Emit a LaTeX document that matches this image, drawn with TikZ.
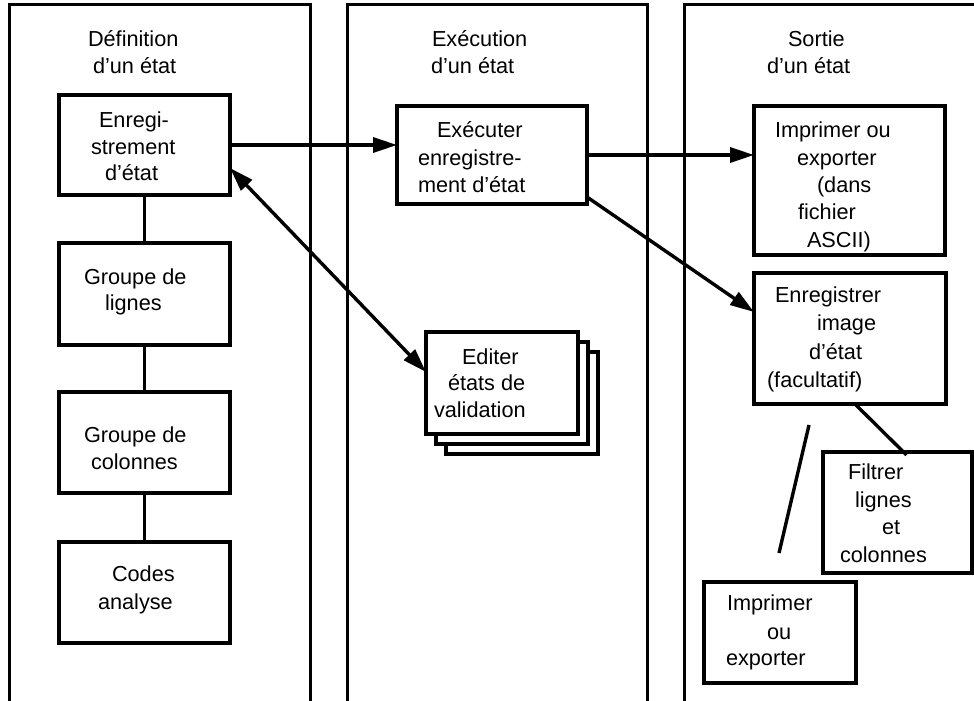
\documentclass[tikz,border=0pt]{standalone}
\usepackage{fontspec}
\setmainfont{Liberation Sans}
\usetikzlibrary{arrows.meta,calc}
\tikzset{
 panel/.style={draw, line width=3pt, anchor=north west, inner sep=0pt, outer sep=0pt},
 box/.style={draw, line width=3.5pt, fill=white, inner sep=0pt, outer sep=0pt},
 txt/.style={anchor=base west, inner sep=0pt, outer sep=0pt, font=\fontsize{21.7}{27}\selectfont},
 conn/.style={line width=3.4pt},
 arr/.style={conn, -{Triangle[length=24pt,width=15pt]}},
 darr/.style={conn, {Triangle[length=24pt,width=15pt]}-{Triangle[length=24pt,width=15pt]}},
}
\newcommand\tl[4]{\node[txt] (#1) at (#2,{#3+7}) {#4};}
\begin{document}
\begin{tikzpicture}[x=1pt,y=-1pt]
\useasboundingbox (0,0) rectangle (974,701);
\clip (0,0) rectangle (974,701);
% panels
\node[panel, minimum width=301pt, minimum height=720pt] (p1) at (9,5) {};
\node[panel, minimum width=300pt, minimum height=720pt] (p2) at (347,5) {};
\node[panel, minimum width=320pt, minimum height=720pt] (p3) at (684,5) {};
% boxes
\node[box, minimum width=171pt, minimum height=100pt] (enreg) at (144.5,145) {};
\node[box, minimum width=171pt, minimum height=102pt] (grp1) at (144.5,294) {};
\node[box, minimum width=171pt, minimum height=101pt] (grp2) at (144.5,442.5) {};
\node[box, minimum width=171pt, minimum height=101pt] (codes) at (144.5,592.5) {};
\node[box, minimum width=190pt, minimum height=98pt] (exec) at (492,155) {};
\node[box, minimum width=191pt, minimum height=149pt] (imp1) at (849.5,180.5) {};
\node[box, minimum width=192pt, minimum height=131pt] (enr) at (850,338.5) {};
\node[box, minimum width=149pt, minimum height=121pt] (filt) at (897.5,512.5) {};
\node[box, minimum width=152pt, minimum height=101pt] (imp2) at (780,632.5) {};
\node[box, minimum width=152pt, minimum height=102pt] (ed3) at (522,403) {};
\node[box, minimum width=152pt, minimum height=102pt] (ed2) at (512,393) {};
\node[box, minimum width=152pt, minimum height=102pt] (ed1) at (502,383) {};
% connectors
\draw[conn] (enreg.south) -- (grp1.north);
\draw[conn] (grp1.south) -- (grp2.north);
\draw[conn] (grp2.south) -- (codes.north);
\draw[arr] (enreg.east) -- (enreg.east -| exec.west);
\draw[arr] (exec.east) -- (exec.east -| imp1.west);
\draw[arr] ([yshift=7pt]exec.south east) -- ([yshift=-39pt]enr.north west);
\draw[darr] ([yshift=-23pt]enreg.east) -- ([yshift=11pt]ed1.west);
\draw[conn] ([xshift=5pt]enr.south) -- ([xshift=9pt,yshift=-3pt]filt.north);
\coordinate (f1) at (809,425);
\coordinate (f2) at (779,553);
\draw[conn] (f1) -- (f2);
% texts
\tl{t1a}{88}{40}{Définition}
\tl{t1b}{93}{67}{d’un état}
\tl{t2a}{432}{40}{Exécution}
\tl{t2b}{431}{67}{d’un état}
\tl{t3a}{788}{40}{Sortie}
\tl{t3b}{767}{67}{d’un état}
\tl{e1}{99}{120}{Enregi-}
\tl{e2}{91}{147}{strement}
\tl{e3}{105}{173}{d’état}
\tl{g1}{84}{277}{Groupe de}
\tl{g2}{105}{303}{lignes}
\tl{h1}{84}{435}{Groupe de}
\tl{h2}{91}{462}{colonnes}
\tl{c1}{112}{574}{Codes}
\tl{c2}{98}{602}{analyse}
\tl{x1}{437}{130}{Exécuter}
\tl{x2}{418}{158}{enregistre-}
\tl{x3}{418}{185}{ment d’état}
\tl{i1}{775}{130}{Imprimer ou}
\tl{i2}{797}{158}{exporter}
\tl{i3}{817}{185}{(dans}
\tl{i4}{798}{212}{fichier}
\tl{i5}{807}{240}{ASCII)}
\tl{r1}{775}{295}{Enregistrer}
\tl{r2}{817}{323}{image}
\tl{r3}{809}{352}{d’état}
\tl{r4}{767}{380}{(facultatif)}
\tl{f1t}{848}{472}{Filtrer}
\tl{f2t}{855}{500}{lignes}
\tl{f3t}{882}{527}{et}
\tl{f4t}{840}{555}{colonnes}
\tl{m1}{727}{603}{Imprimer}
\tl{m2}{767}{632}{ou}
\tl{m3}{726}{658}{exporter}
\tl{d1}{462}{357}{Editer}
\tl{d2}{448}{383}{états de}
\tl{d3}{434}{410}{validation}
\end{tikzpicture}
\end{document}
